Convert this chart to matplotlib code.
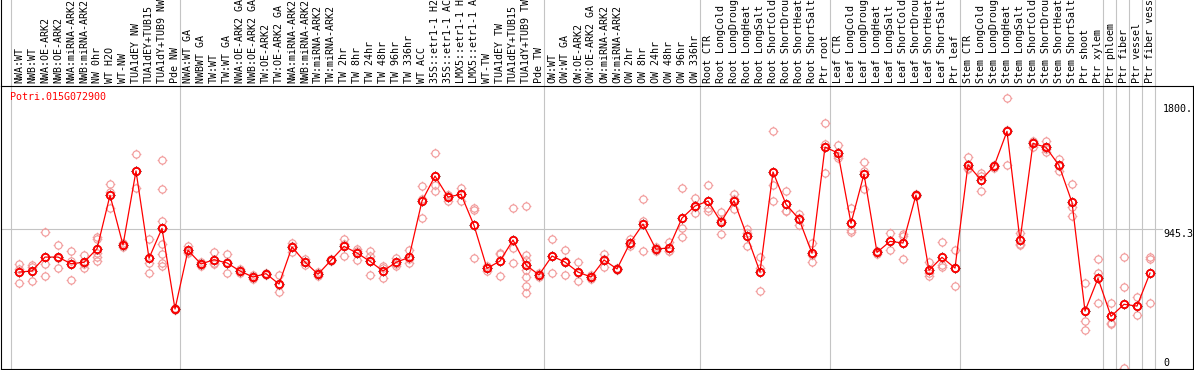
import matplotlib
matplotlib.use('Agg')
import matplotlib.pyplot as plt
from matplotlib.path import Path
from matplotlib.transforms import blended_transform_factory, offset_copy
from matplotlib.lines import Line2D

gene = "Potri.015G072900"

labels = ["NWA:WT", "NWB:WT", "NWA:OE-ARK2", "NWB:OE-ARK2", "NWA:miRNA-ARK2", "NWB:miRNA-ARK2",
          "NW 0hr", "WT H2O", "WT-NW", "TUA1dEY NW", "TUA1dEY+TUB15", "TUA1dY+TUB9 NW", "Pde NW",
          "NWA:WT GA", "NWBWT GA", "TW:WT", "TW:WT GA", "NWA:OE-ARK2 GA", "NWB:OE-ARK2 GA",
          "TW:OE-ARK2", "TW:OE-ARK2 GA", "NWA:miRNA-ARK2", "NWB:miRNA-ARK2", "TW:miRNA-ARK2",
          "TW:miRNA-ARK2", "TW 2hr", "TW 8hr", "TW 24hr", "TW 48hr", "TW 96hr", "TW 336hr", "WT ACC",
          "35S::etr1-1 H2", "35S::etr1-1 AC", "LMX5::etr1-1 H", "LMX5::etr1-1 A", "WT-TW",
          "TUA1dEY TW", "TUA1dEY+TUB15", "TUA1dY+TUB9 TW", "Pde TW",
          "OW:WT", "OW:WT GA", "OW:OE-ARK2", "OW:OE-ARK2 GA", "OW:miRNA-ARK2", "OW:miRNA-ARK2",
          "OW 2hr", "OW 8hr", "OW 24hr", "OW 48hr", "OW 96hr", "OW 336hr",
          "Root CTR", "Root LongCold", "Root LongDroug", "Root LongHeat", "Root LongSalt",
          "Root ShortCold", "Root ShortDrou", "Root ShortHeat", "Root ShortSalt", "Ptr root",
          "Leaf CTR", "Leaf LongCold", "Leaf LongDroug", "Leaf LongHeat", "Leaf LongSalt",
          "Leaf ShortCold", "Leaf ShortDrou", "Leaf ShortHeat", "Leaf ShortSalt", "Ptr leaf",
          "Stem CTR", "Stem LongCold", "Stem LongDroug", "Stem LongHeat", "Stem LongSalt",
          "Stem ShortCold", "Stem ShortDrou", "Stem ShortHeat", "Stem ShortSalt", "Ptr shoot",
          "Ptr xylem", "Ptr phloem", "Ptr fiber", "Ptr vessel", "Ptr fiber vess"]

# first index of each sample group (group separators)
group_starts = [0, 13, 41, 53, 63, 73, 84, 85, 86, 87, 88]

means = [652, 659, 754, 754, 709, 718, 811, 1175, 836, 1341, 746, 950, 400,
         800, 707, 736, 714, 659, 618, 641, 570, 823, 720, 637, 732, 827, 782, 725, 659, 718,
         752, 1136, 1306, 1163, 1182, 970, 677, 727, 870, 700, 632,
         761, 720, 652, 618, 734, 673, 850, 979, 807, 818, 1020, 1102,
         1136, 993, 1138, 898, 652, 1334, 1114, 1013, 780, 1504,
         1463, 984, 1320, 786, 861, 850, 1177, 664, 752, 679,
         1383, 1279, 1373, 1611, 868, 1529, 1502, 1379, 1127, 386, 609,
         350, 432, 420, 645]

replicates = [
    [707, 672, 577], [700, 686, 591], [925, 705, 625], [836, 750, 677], [793, 729, 596],
    [770, 710, 677], [893, 875, 780, 756, 729], [1250, 1199, 1086], [848, 839, 821],
    [1454, 1341, 1227], [875, 711, 645], [1415, 1216, 1000, 843, 775, 711, 693], [408, 400, 392],
    [829, 791, 780], [720, 707, 695], [788, 712, 709], [777, 720, 645], [672, 659, 645],
    [632, 618, 603], [648, 641, 634], [632, 563, 516], [850, 830, 788], [739, 720, 700],
    [650, 637, 624], [740, 732, 724], [879, 843, 759], [811, 797, 736], [797, 763, 725, 632],
    [693, 682, 609], [750, 710, 695], [802, 740, 714], [1236, 1152, 1018], [1463, 1245, 1202],
    [1178, 1175, 1138], [1225, 1182, 1138], [1090, 1075, 748], [693, 677, 662], [782, 775, 625],
    [1088, 816, 714], [1100, 768, 734, 700, 666, 620, 557, 507], [645, 632, 618],
    [877, 761, 645], [800, 729, 632], [720, 645, 591], [632, 618, 604], [777, 739, 686],
    [682, 673, 664], [877, 843, 831], [1150, 1002, 793], [825, 803, 793], [859, 798, 797],
    [1225, 952, 891], [1157, 1097, 1052],
    [1245, 1086, 1070], [1063, 1005, 911], [1186, 1148, 1080], [943, 921, 829], [756, 677, 523],
    [1611, 1243, 1134], [1204, 1070, 1068], [1045, 1019, 975], [848, 770, 722], [1668, 1527, 1325],
    [1516, 1446, 1427], [1086, 938, 928], [1402, 1338, 1220], [797, 786, 775], [918, 866, 800],
    [911, 900, 739], [1186, 1177, 1168], [722, 647, 623], [857, 702, 688], [802, 679, 557],
    [1436, 1359, 1355], [1325, 1308, 1204], [1384, 1373, 1362], [1836, 1618, 1379],
    [920, 846, 838], [1547, 1538, 1502], [1545, 1491, 1470], [1422, 1377, 1338],
    [1250, 1093, 1032], [575, 316, 257], [741, 647, 439],
    [439, 307, 296], [754, 548, 0], [484, 420, 359], [756, 739, 443]]

ytick_values = [1800, 945.3, 0]
ytick_texts = ["1800.", "945.3", "0"]
ref_line = 945.3

W, H = 1194, 370
fig = plt.figure(figsize=(W / 100, H / 100), dpi=100)
fig.patch.set_facecolor('white')

ax_left_px, ax_right_px, ax_top_px, ax_bot_px = 1, 1193, 86, 368.5
ax = fig.add_axes([ax_left_px / W, (H - ax_bot_px) / H,
                   (ax_right_px - ax_left_px) / W, (ax_bot_px - ax_top_px) / H])
ax.set_facecolor('none')
ax.set_xlim(-1.385, 90.308)
ax.set_ylim(-5.5, 1920)
ax.set_xticks([])
ax.set_yticks([])
for s in ax.spines.values():
    s.set_color('black')
    s.set_linewidth(0.8)

FONT = 'DejaVu Sans Mono'
FS = 7.2
grid_c = '#c4c4c4'

# vertical group separators spanning plot and label area (drawn behind the transparent axes)
bt = blended_transform_factory(ax.transData, fig.transFigure)
for b in group_starts:
    fig.add_artist(Line2D([b - 0.62, b - 0.62], [(H - ax_bot_px) / H, 1.0], transform=bt,
                          color=grid_c, lw=0.8, zorder=-1))
# left frame line extended into label area
fig.add_artist(Line2D([ax_left_px / W, ax_left_px / W], [(H - ax_top_px) / H, 1.0],
                      transform=fig.transFigure, color='black', lw=0.8, zorder=-1))

# horizontal reference line
ax.axhline(ref_line, xmin=0, xmax=(1162 - ax_left_px) / (ax_right_px - ax_left_px),
           color=grid_c, lw=0.8, zorder=0)

# marker: circle with four small ticks
circ = Path.unit_circle()
verts = list(circ.vertices)
codes = list(circ.codes)
for dx, dy in [(0, 1), (0, -1), (1, 0), (-1, 0)]:
    verts += [(dx * 1.0, dy * 1.0), (dx * 1.35, dy * 1.35)]
    codes += [Path.MOVETO, Path.LINETO]
tick_circle = Path(verts, codes)

x = list(range(len(means)))
rx, ry = [], []
for i, reps in enumerate(replicates):
    for v in reps:
        rx.append(i)
        ry.append(v)
ax.plot(rx, ry, linestyle='none', marker=tick_circle, markersize=7.0, markerfacecolor='none',
        markeredgecolor='#f29c9c', markeredgewidth=0.85, zorder=2, clip_on=True)

ax.plot(x, means, color='#ff0000', lw=0.9, zorder=3)
ax.plot(x, means, linestyle='none', marker=tick_circle, markersize=7.2, markerfacecolor='none',
        markeredgecolor='#400000', markeredgewidth=0.8, zorder=4)
ax.plot(x, means, linestyle='none', marker='o', markersize=5.3, markerfacecolor='none',
        markeredgecolor='#ff0000', markeredgewidth=1.3, zorder=5)

# sample labels
label_y = (H - 83) / H
for i, lab in enumerate(labels):
    ax.text(i, label_y, lab, transform=bt, rotation=90, ha='center', va='bottom',
            fontsize=FS, family=FONT, color='black', clip_on=False)

# gene name
ax.text((10 - ax_left_px) / (ax_right_px - ax_left_px), (ax_bot_px - 97.3) / (ax_bot_px - ax_top_px),
        gene, transform=ax.transAxes, ha='left', va='center', fontsize=FS, family=FONT,
        color='red')

# value labels on the right
tx = (1163 - ax_left_px) / (ax_right_px - ax_left_px)
yt = blended_transform_factory(ax.transAxes, ax.transData)
offsets = [-5.5, -4.8, 4.8]
for v, t, off in zip(ytick_values, ytick_texts, offsets):
    ax.text(tx, v, t, transform=offset_copy(yt, fig=fig, y=off, units='dots'),
            ha='left', va='center', fontsize=FS, family=FONT, color='black', clip_on=False)

fig.savefig('out.png', dpi=100)
